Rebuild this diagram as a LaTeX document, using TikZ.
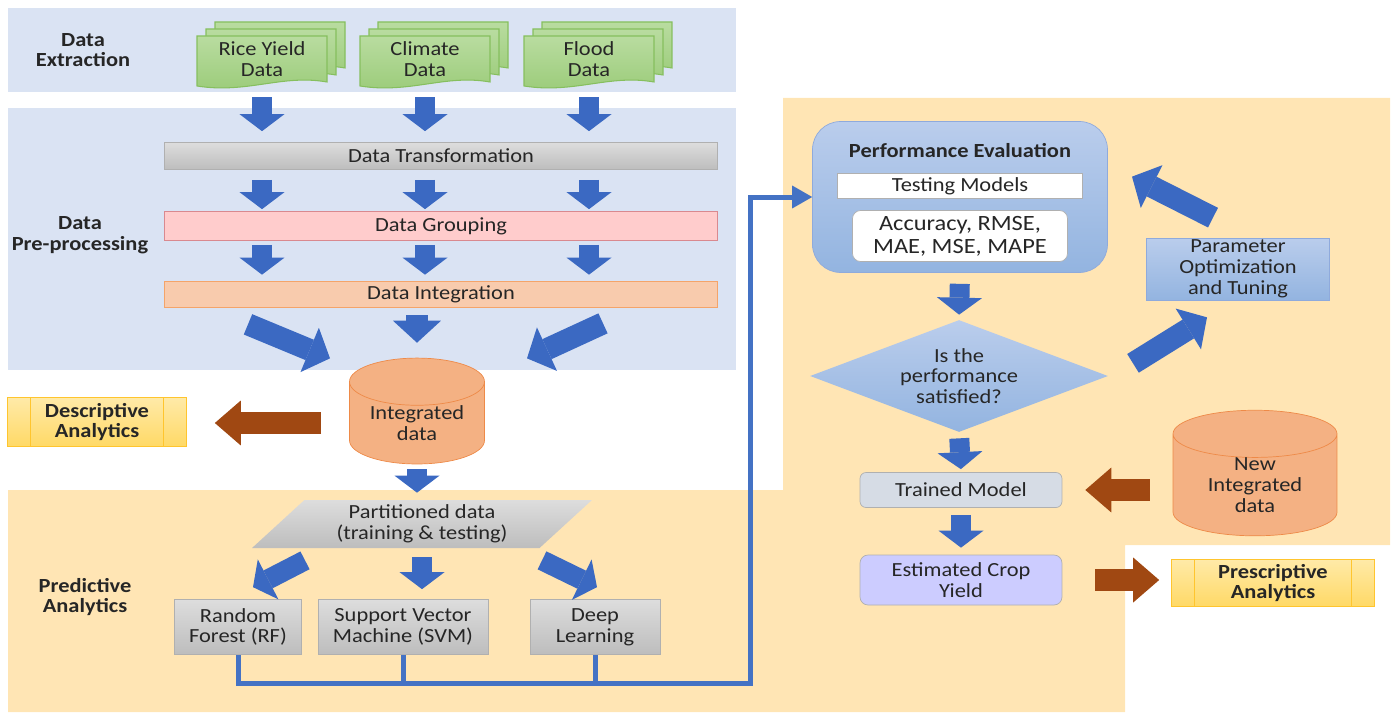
\documentclass[tikz,border=0pt]{standalone}
\usepackage{fontspec}
\setmainfont{Carlito}[FakeStretch=1.12]
\usetikzlibrary{arrows.meta,shapes.geometric}

\definecolor{bandblue}{HTML}{DAE3F3}
\definecolor{bandpeach}{HTML}{FFE5B4}
\definecolor{txtgray}{HTML}{262626}
\definecolor{docA}{HTML}{B9DCA0}
\definecolor{docB}{HTML}{9ACB78}
\definecolor{docedge}{HTML}{86BF5E}
\definecolor{arrowblue}{HTML}{3B69C2}
\definecolor{arrowbrown}{HTML}{A04812}
\definecolor{busblue}{HTML}{4472C4}
\definecolor{grayA}{HTML}{DDDDDD}
\definecolor{grayB}{HTML}{BDBDBD}
\definecolor{grayedge}{HTML}{B0B0B0}
\definecolor{pinkfill}{HTML}{FFCCCC}
\definecolor{pinkedge}{HTML}{D9898F}
\definecolor{integfill}{HTML}{F8CBAD}
\definecolor{integedge}{HTML}{F4A46A}
\definecolor{cylfill}{HTML}{F4B183}
\definecolor{cyledge}{HTML}{EE8A48}
\definecolor{anaA}{HTML}{FFEAA8}
\definecolor{anaB}{HTML}{FFD966}
\definecolor{anaedge}{HTML}{FFC52E}
\definecolor{evalA}{HTML}{BACDEC}
\definecolor{evalB}{HTML}{93B4E0}
\definecolor{evaledge}{HTML}{8FAADC}
\definecolor{trainfill}{HTML}{D6DCE5}
\definecolor{cropfill}{HTML}{CCCCFF}

\newcommand\txtfont{\fontsize{11.4}{11.8}\selectfont}
\newcommand\lblfont{\fontsize{11.4}{11.8}\selectfont\bfseries}

\tikzset{
  every node/.style={font=\txtfont, text=txtgray, align=center},
  lbl/.style={font=\lblfont},
  % flow arrows
  fat/.style={draw=arrowblue, line width=0.4cm, -{Triangle[length=0.34cm,width=0.9cm,line width=0pt]}},
  bigfat/.style={draw=arrowblue, line width=0.44cm, -{Triangle[length=0.44cm,width=0.96cm,line width=0pt]}},
  brownfat/.style={draw=arrowbrown, line width=0.44cm, -{Triangle[length=0.52cm,width=0.9cm,line width=0pt]}},
  busline/.style={draw=busblue, line width=0.1cm, -{Triangle[length=0.4cm,width=0.46cm,line width=0pt]}},
  % boxes
  docpage/.style={draw=docedge, top color=docA, bottom color=docB, line width=0.6pt},
  docnode/.style={minimum width=2.6cm, minimum height=1cm, inner sep=0pt},
  bar/.style={rectangle, minimum width=11.06cm, inner sep=0pt},
  transbar/.style={bar, minimum height=0.54cm, top color=grayA, bottom color=grayB, draw=grayedge},
  groupbar/.style={bar, minimum height=0.58cm, fill=pinkfill, draw=pinkedge},
  integbar/.style={bar, minimum height=0.52cm, fill=integfill, draw=integedge},
  db/.style={cylinder, shape border rotate=90, aspect=0.5, fill=cylfill, draw=cyledge, inner sep=0pt},
  analytics/.style={rectangle, draw=anaedge, top color=anaA, bottom color=anaB, inner sep=0pt, font=\lblfont,
    path picture={
      \draw[anaedge] ([xshift=0.46cm]path picture bounding box.north west) -- ([xshift=0.46cm]path picture bounding box.south west);
      \draw[anaedge] ([xshift=-0.46cm]path picture bounding box.north east) -- ([xshift=-0.46cm]path picture bounding box.south east);}},
  partbox/.style={trapezium, trapezium left angle=45, trapezium right angle=135, trapezium stretches=true,
    minimum width=6.8cm, minimum height=0.96cm, inner sep=0pt, top color=grayA, bottom color=grayB},
  model/.style={rectangle, minimum height=1.1cm, inner sep=0pt, top color=grayA, bottom color=grayB, draw=grayedge},
  perfbox/.style={rectangle, rounded corners=0.56cm, minimum width=5.9cm, minimum height=3.02cm,
    top color=evalA, bottom color=evalB, draw=evaledge},
  testbox/.style={rectangle, minimum width=4.9cm, minimum height=0.5cm, inner sep=0pt, fill=white, draw=grayedge},
  metricbox/.style={rectangle, rounded corners=0.16cm, minimum width=4.3cm, minimum height=1.02cm, inner sep=0pt,
    fill=white, draw=grayedge, font=\fontsize{12.4}{13.2}\selectfont},
  decision/.style={diamond, aspect=2.66, minimum width=5.96cm, minimum height=2.24cm, inner sep=0pt,
    top color=evalA, bottom color=evalB},
  param/.style={rectangle, minimum width=3.66cm, minimum height=1.24cm, inner sep=0pt,
    top color=evalA, bottom color=evalB, draw=evaledge},
  trained/.style={rectangle, rounded corners=0.12cm, minimum width=4.04cm, minimum height=0.7cm, inner sep=0pt,
    fill=trainfill, draw=grayedge},
  estbox/.style={rectangle, rounded corners=0.16cm, minimum width=4.04cm, minimum height=1cm, inner sep=0pt,
    fill=cropfill, draw=grayedge}
}

\begin{document}
\begin{tikzpicture}[x=0.02cm, y=-0.02cm]
\useasboundingbox (0,0) rectangle (1393,713);

% coloured stage bands
\fill[bandblue] (8,8) rectangle (736,92);
\fill[bandblue] (8,108) rectangle (736,370);
\fill[bandpeach] (8,490) -- (783,490) -- (783,98) -- (1390,98) -- (1390,545)
  -- (1125,545) -- (1125,712) -- (8,712) -- cycle;

% stage labels
\node[lbl] (extr) at (83,50) {Data\\Extraction};
\node[lbl] (prep) at (80,235) {Data\\Pre-processing};
\node[lbl] (pred) at (85,597) {Predictive\\Analytics};

% source data, drawn as stacks of pages
\foreach \nm/\px/\txt in {rice/197/{Rice Yield\\Data}, climate/360/{Climate\\Data}, flood/524/{Flood\\Data}}{
  \foreach \o in {2,1,0}
    \draw[docpage] (\px+9*\o,36-7*\o) -- ++(130,0) -- ++(0,46)
      .. controls +(-45,-8) and +(50,8) .. ++(-130,4) -- cycle;
  \node[docnode] (\nm) at (\px+65,59) {\txt};
}

% pre-processing steps
\node[transbar] (trans) at (441,156) {Data Transformation};
\node[groupbar] (group) at (441,226) {Data Grouping};
\node[integbar] (integ) at (441,294) {Data Integration};

\foreach \s in {rice,climate,flood}{
  \draw[fat, shorten <=0.26cm, shorten >=0.22cm] (\s.south) -- (\s.south |- trans.north);
  \draw[fat, shorten <=0.2cm, shorten >=0.04cm] (\s.south |- trans.south) -- (\s.south |- group.north);
  \draw[fat, shorten <=0.08cm, shorten >=0.12cm] (\s.south |- group.south) -- (\s.south |- integ.north);
}

% integrated data store
\node[db, minimum width=2.7cm, minimum height=1.34cm] (idata) at (417,423) {Integrated\\data};
\node[analytics, minimum width=3.58cm, minimum height=0.98cm] (descr) at (97,422) {Descriptive\\Analytics};

\draw[bigfat] ([shift={(-193,17)}]integ.south) -- ([shift={(-111,51)}]integ.south);
\draw[bigfat, shorten <=0.16cm, shorten >=0.3cm] (integ.south -| idata.north) -- (idata.north);
\draw[bigfat] ([shift={(162,16)}]integ.south) -- ([shift={(86,51)}]integ.south);
\draw[brownfat, shorten <=0.56cm, shorten >=0.56cm] (idata.west) -- (idata.west -| descr.east);

% predictive models
\node[partbox] (part) at (422,524) {Partitioned data\\(training \& testing)};
\node[model, minimum width=2.54cm] (rf) at (238,627) {Random\\Forest (RF)};
\node[model, minimum width=3.4cm] (svm) at (403,627) {Support Vector\\Machine (SVM)};
\node[model, minimum width=2.6cm] (dl) at (595,627) {Deep\\Learning};

\draw[fat, shorten <=0.1cm, shorten >=0.14cm] (idata.south) -- (idata.south |- part.north);
\draw[fat] ([shift={(-117,12)}]part.south) -- ([shift={(15,-12)}]rf.north);
\draw[fat, shorten <=0.18cm, shorten >=0.2cm] (part.south) -- (part.south |- svm.north);
\draw[fat] ([shift={(120,12)}]part.south) -- ([shift={(2,-12)}]dl.north);

% evaluation loop
\node[perfbox] (perf) at (960,197) {};
\node[lbl] (perftitle) at (960,151) {Performance Evaluation};
\node[testbox] (testing) at (960,186) {Testing Models};
\node[metricbox] (metrics) at (960,236) {Accuracy, RMSE,\\MAE, MSE, MAPE};
\node[decision] (check) at (959,376) {Is the\\performance\\satisfied?};
\node[param] (tune) at (1238,269) {Parameter\\Optimization\\and Tuning};
\node[trained] (trained) at (961,490) {Trained Model};
\node[estbox] (crop) at (961,580) {Estimated Crop\\Yield};
\node[db, minimum width=3.28cm, minimum height=2cm] (newdata) at (1255,485) {New\\Integrated\\data};
\node[analytics, minimum width=4.06cm, minimum height=0.94cm] (presc) at (1273,583) {Prescriptive\\Analytics};

\coordinate (bus) at (750,683);
\draw[busline] (rf.south) |- (bus) |- (perf.west);
\draw[busline, -] (svm.south) -- (svm.south |- bus);
\draw[busline, -] (dl.south) -- (dl.south |- bus);

\draw[fat, shorten <=0.22cm, shorten >=0.1cm] (perf.south) -- (check.north);
\draw[fat, shorten <=0.12cm, shorten >=0.06cm] (check.south) -- (trained.north);
\draw[fat, shorten <=0.14cm, shorten >=0.14cm] (trained.south) -- (crop.north);
\draw[bigfat] ([shift={(-105,63)}]tune.south) -- ([shift={(-31,17)}]tune.south);
\draw[bigfat] ([shift={(-25,-20)}]tune.north) -- ([shift={(-106,-61)}]tune.north);
\draw[brownfat, shorten <=0.46cm, shorten >=0.46cm] (newdata.west |- trained.east) -- (trained.east);
\draw[brownfat, shorten <=0.66cm, shorten >=0.24cm] (crop.east) -- (crop.east -| presc.west);
\end{tikzpicture}
\end{document}
